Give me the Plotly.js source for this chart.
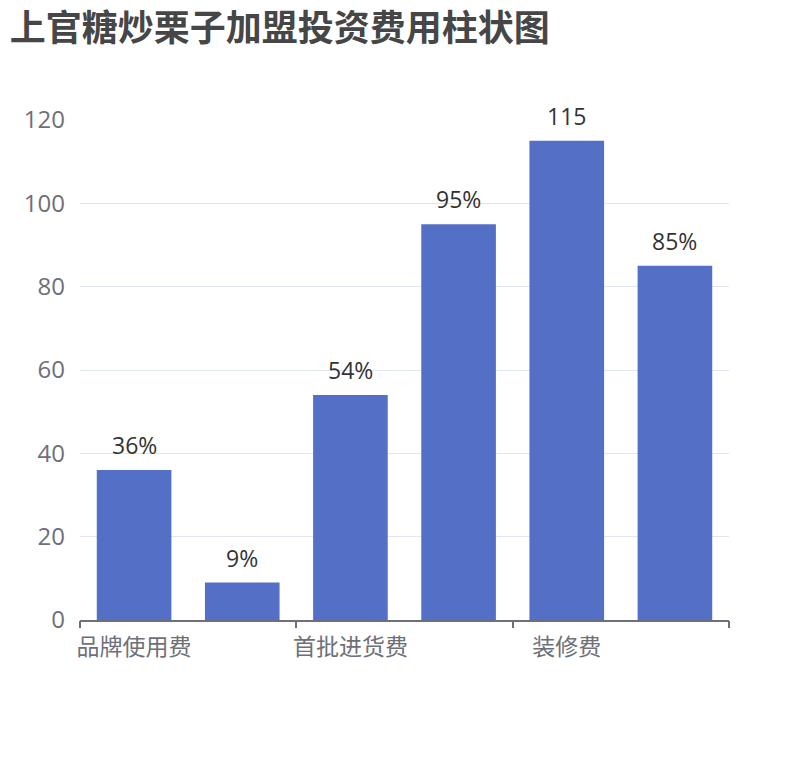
<!DOCTYPE html>
<html>
<head>
<meta charset="utf-8">
<script src="https://cdn.plot.ly/plotly-3.0.1.min.js"></script>
<style>
  body { margin: 0; background: #fff; }
  #chart { width: 810px; height: 760px; }
</style>
</head>
<body>
<div id="chart"></div>
<script>
// categories (only every other one is labelled on the axis)
let categories = ['品牌使用费', '设备费', '首批进货费', '店面租金', '装修费', '流动资金'];
let values = [36, 9, 54, 95, 115, 85];
let barLabels = ['36%', '9%', '54%', '95%', '115', '85%'];
let yTicks = [0, 20, 40, 60, 80, 100, 120];

let font = '"Open Sans", "Noto Sans CJK SC", sans-serif';

let barTrace = {
    type: 'bar',
    x: categories,
    y: values,
    marker: { color: '#5470c6' },
    hoverinfo: 'x+y'
};

// value labels above the bars
let labelNotes = [];
for (let i = 0; i < categories.length; i++) {
    labelNotes.push({
        x: categories[i],
        y: values[i],
        xref: 'x',
        yref: 'y',
        text: barLabels[i],
        showarrow: false,
        yanchor: 'bottom',
        yshift: 7,
        font: { family: font, size: 23, color: '#333333' }
    });
}

// tick marks between every second category
let boundaryTicks = [];
for (let i = 0; i <= categories.length; i += 2) {
    boundaryTicks.push(i - 0.5);
}

let layout = {
    width: 810,
    height: 760,
    margin: { l: 80, r: 81, t: 120, b: 140 },
    paper_bgcolor: '#ffffff',
    plot_bgcolor: '#ffffff',
    showlegend: false,
    bargap: 0.31,
    title: {
        text: '<b>上官糖炒栗子加盟投资费用柱状图</b>',
        font: { family: '"Noto Sans CJK SC", sans-serif', size: 36, color: '#464646' },
        xref: 'container',
        yref: 'container',
        x: 0.012,
        xanchor: 'left',
        y: 0.962,
        yanchor: 'middle'
    },
    xaxis: {
        type: 'category',
        tickvals: [categories[0], categories[2], categories[4]],
        ticktext: [categories[0], categories[2], categories[4]],
        ticks: '',
        showline: true,
        linecolor: '#6E7079',
        linewidth: 1.5,
        showgrid: false,
        tickfont: { family: '"Noto Sans CJK SC", sans-serif', size: 23, color: '#6E7079' },
        ticklabelstandoff: 6
    },
    xaxis2: {
        overlaying: 'x',
        anchor: 'y',
        side: 'bottom',
        range: [-0.5, categories.length - 0.5],
        tickvals: boundaryTicks,
        ticks: 'outside',
        ticklen: 7,
        tickwidth: 1.5,
        tickcolor: '#6E7079',
        showticklabels: false,
        showgrid: false,
        zeroline: false,
        showline: false
    },
    yaxis: {
        range: [0, 120],
        tickvals: yTicks,
        showline: false,
        zeroline: false,
        gridcolor: '#E0E6F1',
        gridwidth: 1.3,
        ticks: '',
        tickfont: { family: font, size: 24, color: '#6E7079' },
        ticklabelstandoff: 14
    },
    annotations: labelNotes
};

// invisible trace so the boundary-tick axis is drawn
let tickTrace = {
    type: 'scatter',
    x: boundaryTicks,
    y: boundaryTicks.map(function () { return 0; }),
    xaxis: 'x2',
    mode: 'markers',
    marker: { opacity: 0 },
    hoverinfo: 'skip'
};

Plotly.newPlot('chart', [barTrace, tickTrace], layout, { displayModeBar: false });
</script>
</body>
</html>
